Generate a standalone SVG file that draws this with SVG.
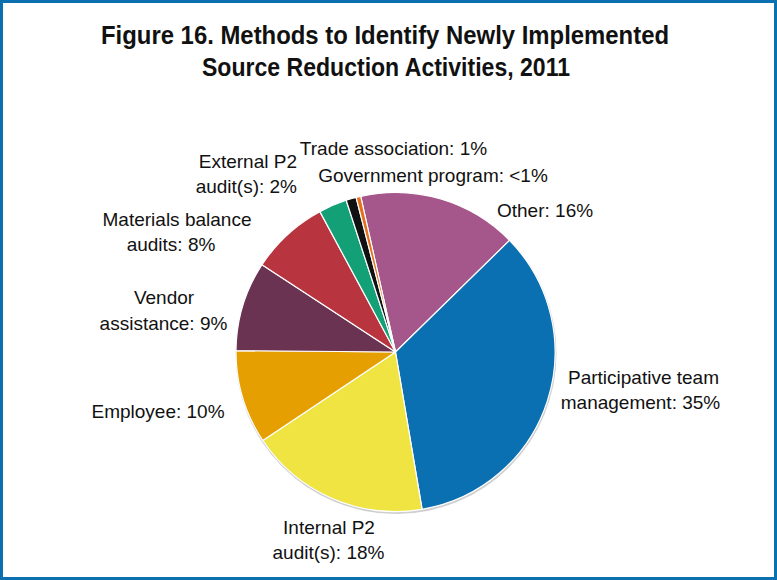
<svg xmlns="http://www.w3.org/2000/svg" width="777" height="580" viewBox="0 0 777 580">
<style>
.t{font-family:"Liberation Sans",Arial,sans-serif;font-weight:bold;font-size:25px;fill:#111;text-anchor:middle}
.l{font-family:"Liberation Sans",Arial,sans-serif;font-size:19px;fill:#111}
.m{text-anchor:middle}
.e{text-anchor:end}
.s{stroke:#fff;stroke-width:1.2;stroke-linejoin:round}
</style>
<rect x="0" y="0" width="777" height="580" fill="#fff"/>
<rect x="1.5" y="1.5" width="774" height="577" fill="none" stroke="#0a70b0" stroke-width="3"/>
<g id="title">
<text class="t" x="385" y="44" textLength="568" lengthAdjust="spacingAndGlyphs">Figure 16. Methods to Identify Newly Implemented</text>
<text class="t" x="386" y="76" textLength="368" lengthAdjust="spacingAndGlyphs">Source Reduction Activities, 2011</text>
</g>
<circle cx="396" cy="353.5" r="160.5" fill="#cfcfcf"/>
<g id="slice-other"><path class="s" fill="#a5568a" d="M395.5,352 L360.7,196.3 A159.5,159.5 0 0 1 509.5,240.4 Z"/></g>
<g id="slice-participative"><path class="s" fill="#0b70b2" d="M395.5,352 L509.5,240.4 A159.5,159.5 0 0 1 422.1,509.3 Z"/></g>
<g id="slice-internal"><path class="s" fill="#f0e442" d="M395.5,352 L422.1,509.3 A159.5,159.5 0 0 1 262.8,440.5 Z"/></g>
<g id="slice-employee"><path class="s" fill="#e69f00" d="M395.5,352 L262.8,440.5 A159.5,159.5 0 0 1 236.0,350.6 Z"/></g>
<g id="slice-vendor"><path class="s" fill="#6b3352" d="M395.5,352 L236.0,350.6 A159.5,159.5 0 0 1 262.0,264.7 Z"/></g>
<g id="slice-materials"><path class="s" fill="#b8343e" d="M395.5,352 L262.0,264.7 A159.5,159.5 0 0 1 319.9,211.6 Z"/></g>
<g id="slice-external"><path class="s" fill="#13a077" d="M395.5,352 L319.9,211.6 A159.5,159.5 0 0 1 346.2,200.3 Z"/></g>
<g id="slice-trade"><path class="s" fill="#111" d="M395.5,352 L346.2,200.3 A159.5,159.5 0 0 1 356.1,197.4 Z"/></g>
<g id="slice-government"><path class="s" fill="#e2701f" d="M395.5,352 L356.1,197.4 A159.5,159.5 0 0 1 360.7,196.3 Z"/></g>
<g id="labels">
<g id="label-trade"><text class="l m" x="393.5" y="155">Trade association: 1%</text></g>
<g id="label-external"><text class="l e" x="297" y="168">External P2</text><text class="l e" x="297" y="193">audit(s): 2%</text></g>
<g id="label-government"><text class="l m" x="433" y="182">Government program: &lt;1%</text></g>
<g id="label-other"><text class="l" x="497" y="217">Other: 16%</text></g>
<g id="label-materials"><text class="l m" x="177" y="226">Materials balance</text><text class="l m" x="171" y="251">audits: 8%</text></g>
<g id="label-vendor"><text class="l m" x="164" y="304">Vendor</text><text class="l m" x="163.5" y="330">assistance: 9%</text></g>
<g id="label-employee"><text class="l m" x="158" y="418">Employee: 10%</text></g>
<g id="label-participative"><text class="l m" x="643.5" y="384">Participative team</text><text class="l m" x="640.5" y="409">management: 35%</text></g>
<g id="label-internal"><text class="l m" x="329" y="534">Internal P2</text><text class="l m" x="328.5" y="559">audit(s): 18%</text></g>
</g>
</svg>
